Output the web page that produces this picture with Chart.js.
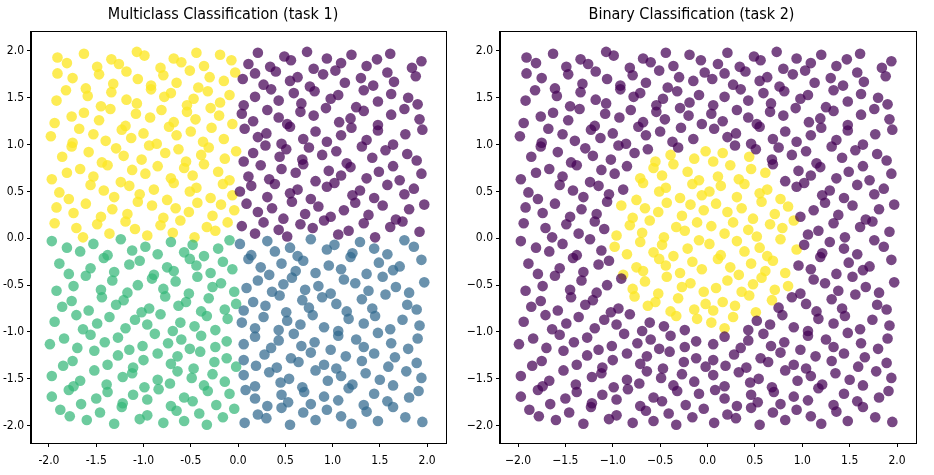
<!DOCTYPE html>
<html>
<head>
<meta charset="utf-8">
<script src="https://cdn.jsdelivr.net/npm/chart.js@4.4.1/dist/chart.umd.min.js"></script>
<style>
  html, body { margin: 0; padding: 0; background: #fff; }
  #wrap { position: relative; width: 934px; height: 475px; }
  canvas { position: absolute; top: 0; }
</style>
</head>
<body>
<div id="wrap">
  <canvas id="task1" width="467" height="475" style="left:0"></canvas>
  <canvas id="task2" width="467" height="475" style="left:467px"></canvas>
</div>
<script>
// The clouds hold thousands of points that can't be read one by one, so these
// are a fixed hand-written stand-in sample covering the same areas.
const titles = ["Multiclass Classification (task 1)", "Binary Classification (task 2)"];
const tickValues = [-2.0, -1.5, -1.0, -0.5, 0.0, 0.5, 1.0, 1.5, 2.0];
const leftTickLabels = ["-2.0", "-1.5", "-1.0", "-0.5", "0.0", "0.5", "1.0", "1.5", "2.0"];
const rightTickLabels = ["\u22122.0", "\u22121.5", "\u22121.0", "\u22120.5", "0.0", "0.5", "1.0", "1.5", "2.0"];

// class shown purple in task 1
const topRightPoints = [
  [0.04,0.13],[0.18,0.05],[0.27,0.17],[0.43,0.09],[0.52,0.02],[0.66,0.15],[0.79,0.11],[0.91,0.19],[1.06,0.04],[1.17,0.08],[1.33,0.16],[1.45,0.01],[1.61,0.12],[1.74,0.18],[1.92,0.07],
  [0.09,0.37],[0.21,0.28],[0.36,0.32],[0.48,0.21],[0.57,0.39],[0.71,0.26],[0.85,0.34],[0.98,0.23],[1.12,0.30],[1.24,0.38],[1.38,0.25],[1.53,0.35],[1.67,0.20],[1.81,0.31],[1.97,0.36],
  [0.02,0.50],[0.14,0.56],[0.31,0.44],[0.39,0.58],[0.55,0.48],[0.63,0.52],[0.77,0.42],[0.94,0.55],[1.02,0.59],[1.21,0.46],[1.29,0.51],[1.44,0.43],[1.58,0.57],[1.76,0.47],[1.86,0.53],
  [0.11,0.66],[0.24,0.78],[0.33,0.63],[0.46,0.74],[0.61,0.70],[0.69,0.79],[0.82,0.61],[0.96,0.72],[1.09,0.67],[1.19,0.76],[1.36,0.64],[1.49,0.71],[1.64,0.77],[1.71,0.62],[1.94,0.69],
  [0.06,0.82],[0.16,0.91],[0.29,0.99],[0.44,0.87],[0.51,0.95],[0.68,0.84],[0.75,0.97],[0.89,0.89],[1.04,0.93],[1.15,0.80],[1.31,0.98],[1.42,0.86],[1.56,0.94],[1.79,0.90],[1.89,0.83],
  [0.07,1.17],[0.21,1.08],[0.30,1.12],[0.46,1.01],[0.55,1.19],[0.69,1.06],[0.82,1.14],[0.94,1.03],[1.09,1.10],[1.20,1.18],[1.36,1.05],[1.48,1.15],[1.64,1.00],[1.77,1.11],[1.95,1.16],
  [0.04,1.33],[0.16,1.25],[0.31,1.37],[0.43,1.29],[0.52,1.22],[0.66,1.35],[0.80,1.31],[0.93,1.39],[1.07,1.24],[1.19,1.28],[1.33,1.36],[1.48,1.21],[1.62,1.32],[1.76,1.38],[1.92,1.27],
  [0.06,1.42],[0.18,1.51],[0.35,1.59],[0.43,1.47],[0.59,1.55],[0.67,1.44],[0.81,1.57],[0.98,1.49],[1.06,1.53],[1.25,1.40],[1.33,1.58],[1.48,1.46],[1.62,1.54],[1.80,1.50],[1.90,1.43],
  [0.05,1.70],[0.18,1.76],[0.27,1.64],[0.40,1.78],[0.55,1.68],[0.63,1.72],[0.76,1.62],[0.90,1.75],[1.03,1.79],[1.13,1.66],[1.30,1.71],[1.43,1.63],[1.58,1.77],[1.65,1.67],[1.88,1.73],
  [0.11,1.86],[0.21,1.98],[0.34,1.83],[0.49,1.94],[0.56,1.90],[0.73,1.99],[0.80,1.81],[0.94,1.92],[1.09,1.87],[1.20,1.96],[1.36,1.84],[1.47,1.91],[1.61,1.97],[1.84,1.82],[1.94,1.89]
];

// class shown yellow in task 1
const topLeftPoints = [
  [-0.11,0.17],[-0.24,0.08],[-0.33,0.12],[-0.46,0.01],[-0.61,0.19],[-0.69,0.06],[-0.82,0.14],[-0.96,0.03],[-1.09,0.10],[-1.19,0.18],[-1.36,0.05],[-1.49,0.15],[-1.64,0.01],[-1.71,0.11],[-1.94,0.16],
  [-0.04,0.30],[-0.18,0.36],[-0.27,0.24],[-0.43,0.38],[-0.52,0.28],[-0.66,0.32],[-0.79,0.22],[-0.91,0.35],[-1.06,0.39],[-1.17,0.26],[-1.33,0.31],[-1.45,0.23],[-1.61,0.37],[-1.74,0.27],[-1.92,0.33],
  [-0.06,0.46],[-0.16,0.58],[-0.29,0.43],[-0.44,0.54],[-0.51,0.50],[-0.68,0.59],[-0.75,0.41],[-0.89,0.52],[-1.04,0.47],[-1.15,0.56],[-1.31,0.44],[-1.42,0.51],[-1.56,0.57],[-1.79,0.42],[-1.89,0.49],
  [-0.09,0.62],[-0.21,0.71],[-0.36,0.79],[-0.48,0.67],[-0.57,0.75],[-0.71,0.64],[-0.85,0.77],[-0.98,0.69],[-1.12,0.73],[-1.24,0.60],[-1.38,0.78],[-1.53,0.66],[-1.67,0.74],[-1.81,0.70],[-1.97,0.63],
  [-0.02,0.93],[-0.14,0.85],[-0.31,0.97],[-0.39,0.89],[-0.55,0.82],[-0.63,0.95],[-0.77,0.91],[-0.94,0.99],[-1.02,0.84],[-1.21,0.88],[-1.29,0.96],[-1.44,0.81],[-1.58,0.92],[-1.76,0.98],[-1.86,0.87],
  [-0.15,1.06],[-0.28,1.18],[-0.37,1.03],[-0.50,1.14],[-0.65,1.10],[-0.73,1.19],[-0.86,1.01],[-1.00,1.12],[-1.13,1.07],[-1.23,1.16],[-1.40,1.04],[-1.53,1.11],[-1.68,1.17],[-1.75,1.02],[-1.98,1.09],
  [-0.06,1.22],[-0.20,1.31],[-0.29,1.39],[-0.45,1.27],[-0.54,1.35],[-0.68,1.24],[-0.81,1.37],[-0.93,1.29],[-1.08,1.33],[-1.19,1.20],[-1.35,1.38],[-1.47,1.26],[-1.63,1.34],[-1.76,1.30],[-1.94,1.23],
  [-0.09,1.53],[-0.19,1.45],[-0.32,1.57],[-0.47,1.49],[-0.54,1.42],[-0.71,1.55],[-0.78,1.51],[-0.92,1.59],[-1.07,1.44],[-1.18,1.48],[-1.34,1.56],[-1.45,1.41],[-1.59,1.52],[-1.82,1.58],[-1.92,1.47],
  [-0.03,1.77],[-0.15,1.68],[-0.30,1.72],[-0.42,1.61],[-0.51,1.79],[-0.65,1.66],[-0.79,1.74],[-0.92,1.63],[-1.06,1.70],[-1.18,1.78],[-1.32,1.65],[-1.47,1.75],[-1.61,1.60],[-1.75,1.71],[-1.91,1.76],
  [-0.07,1.90],[-0.19,1.96],[-0.36,1.84],[-0.44,1.98],[-0.60,1.88],[-0.68,1.92],[-0.82,1.82],[-0.99,1.95],[-1.07,1.99],[-1.26,1.86],[-1.34,1.91],[-1.49,1.83],[-1.63,1.97],[-1.81,1.87],[-1.91,1.93]
];

// class shown green in task 1
const bottomLeftPoints = [
  [-0.09,-0.02],[-0.21,-0.11],[-0.36,-0.19],[-0.48,-0.07],[-0.57,-0.15],[-0.71,-0.04],[-0.85,-0.17],[-0.98,-0.09],[-1.12,-0.13],[-1.24,-0.01],[-1.38,-0.18],[-1.53,-0.06],[-1.67,-0.14],[-1.81,-0.10],[-1.97,-0.03],
  [-0.06,-0.33],[-0.16,-0.25],[-0.29,-0.37],[-0.44,-0.29],[-0.51,-0.22],[-0.68,-0.35],[-0.75,-0.31],[-0.89,-0.39],[-1.04,-0.24],[-1.15,-0.28],[-1.31,-0.36],[-1.42,-0.21],[-1.56,-0.32],[-1.79,-0.38],[-1.89,-0.27],
  [-0.04,-0.57],[-0.18,-0.48],[-0.27,-0.52],[-0.43,-0.41],[-0.52,-0.59],[-0.66,-0.46],[-0.79,-0.54],[-0.91,-0.43],[-1.06,-0.50],[-1.17,-0.58],[-1.33,-0.45],[-1.45,-0.55],[-1.61,-0.40],[-1.74,-0.51],[-1.92,-0.56],
  [-0.02,-0.70],[-0.14,-0.76],[-0.31,-0.64],[-0.39,-0.78],[-0.55,-0.68],[-0.63,-0.72],[-0.77,-0.62],[-0.94,-0.75],[-1.02,-0.79],[-1.21,-0.66],[-1.29,-0.71],[-1.44,-0.63],[-1.58,-0.77],[-1.76,-0.67],[-1.86,-0.73],
  [-0.11,-0.86],[-0.24,-0.98],[-0.33,-0.83],[-0.46,-0.94],[-0.61,-0.90],[-0.69,-0.99],[-0.82,-0.81],[-0.96,-0.92],[-1.09,-0.87],[-1.19,-0.96],[-1.36,-0.84],[-1.49,-0.91],[-1.64,-0.97],[-1.71,-0.82],[-1.94,-0.89],
  [-0.12,-1.10],[-0.24,-1.16],[-0.39,-1.04],[-0.51,-1.18],[-0.60,-1.08],[-0.74,-1.12],[-0.88,-1.02],[-1.01,-1.15],[-1.15,-1.19],[-1.27,-1.06],[-1.41,-1.11],[-1.56,-1.03],[-1.70,-1.17],[-1.84,-1.07],[-1.99,-1.13],
  [-0.02,-1.37],[-0.12,-1.28],[-0.25,-1.32],[-0.40,-1.21],[-0.47,-1.39],[-0.64,-1.26],[-0.71,-1.34],[-0.85,-1.23],[-1.00,-1.30],[-1.11,-1.38],[-1.27,-1.25],[-1.38,-1.35],[-1.52,-1.20],[-1.75,-1.31],[-1.85,-1.36],
  [-0.14,-1.53],[-0.27,-1.45],[-0.36,-1.57],[-0.49,-1.49],[-0.64,-1.42],[-0.72,-1.55],[-0.85,-1.51],[-0.99,-1.59],[-1.12,-1.44],[-1.22,-1.48],[-1.39,-1.56],[-1.52,-1.41],[-1.67,-1.52],[-1.74,-1.58],[-1.97,-1.47],
  [-0.09,-1.66],[-0.23,-1.78],[-0.32,-1.63],[-0.48,-1.74],[-0.57,-1.70],[-0.71,-1.79],[-0.84,-1.61],[-0.96,-1.72],[-1.11,-1.67],[-1.22,-1.76],[-1.38,-1.64],[-1.50,-1.71],[-1.66,-1.77],[-1.79,-1.62],[-1.97,-1.69],
  [-0.04,-1.82],[-0.16,-1.91],[-0.33,-1.99],[-0.41,-1.87],[-0.57,-1.95],[-0.65,-1.84],[-0.79,-1.97],[-0.96,-1.89],[-1.04,-1.93],[-1.23,-1.80],[-1.31,-1.98],[-1.46,-1.86],[-1.60,-1.94],[-1.78,-1.90],[-1.88,-1.83]
];

// class shown blue in task 1
const bottomRightPoints = [
  [0.02,-0.06],[0.14,-0.18],[0.31,-0.03],[0.39,-0.14],[0.55,-0.10],[0.63,-0.19],[0.77,-0.01],[0.94,-0.12],[1.02,-0.07],[1.21,-0.16],[1.29,-0.04],[1.44,-0.11],[1.58,-0.17],[1.76,-0.02],[1.86,-0.09],
  [0.11,-0.22],[0.24,-0.31],[0.33,-0.39],[0.46,-0.27],[0.61,-0.35],[0.69,-0.24],[0.82,-0.37],[0.96,-0.29],[1.09,-0.33],[1.19,-0.20],[1.36,-0.38],[1.49,-0.26],[1.64,-0.34],[1.71,-0.30],[1.94,-0.23],
  [0.09,-0.53],[0.21,-0.45],[0.36,-0.57],[0.48,-0.49],[0.57,-0.42],[0.71,-0.55],[0.85,-0.51],[0.98,-0.59],[1.12,-0.44],[1.24,-0.48],[1.38,-0.56],[1.53,-0.41],[1.67,-0.52],[1.81,-0.58],[1.97,-0.47],
  [0.06,-0.77],[0.16,-0.68],[0.29,-0.72],[0.44,-0.61],[0.51,-0.79],[0.68,-0.66],[0.75,-0.74],[0.89,-0.63],[1.04,-0.70],[1.15,-0.78],[1.31,-0.65],[1.42,-0.75],[1.56,-0.60],[1.79,-0.71],[1.89,-0.76],
  [0.04,-0.90],[0.18,-0.96],[0.27,-0.84],[0.43,-0.98],[0.52,-0.88],[0.66,-0.92],[0.79,-0.82],[0.91,-0.95],[1.06,-0.99],[1.17,-0.86],[1.33,-0.91],[1.45,-0.83],[1.61,-0.97],[1.74,-0.87],[1.92,-0.93],
  [0.06,-1.13],[0.18,-1.05],[0.35,-1.17],[0.43,-1.09],[0.59,-1.02],[0.67,-1.15],[0.81,-1.11],[0.98,-1.19],[1.06,-1.04],[1.25,-1.08],[1.33,-1.16],[1.48,-1.01],[1.62,-1.12],[1.80,-1.18],[1.90,-1.07],
  [0.06,-1.30],[0.19,-1.36],[0.28,-1.24],[0.41,-1.38],[0.56,-1.28],[0.64,-1.32],[0.77,-1.22],[0.91,-1.35],[1.04,-1.39],[1.14,-1.26],[1.31,-1.31],[1.44,-1.23],[1.59,-1.37],[1.66,-1.27],[1.89,-1.33],
  [0.06,-1.46],[0.18,-1.58],[0.33,-1.43],[0.45,-1.54],[0.54,-1.50],[0.68,-1.59],[0.82,-1.41],[0.95,-1.52],[1.09,-1.47],[1.21,-1.56],[1.35,-1.44],[1.50,-1.51],[1.64,-1.57],[1.78,-1.42],[1.94,-1.49],
  [0.08,-1.62],[0.18,-1.71],[0.31,-1.79],[0.46,-1.67],[0.53,-1.75],[0.70,-1.64],[0.77,-1.77],[0.91,-1.69],[1.06,-1.73],[1.17,-1.60],[1.33,-1.78],[1.44,-1.66],[1.58,-1.74],[1.81,-1.70],[1.91,-1.63],
  [0.07,-1.97],[0.21,-1.88],[0.30,-1.92],[0.46,-1.81],[0.55,-1.99],[0.69,-1.86],[0.82,-1.94],[0.94,-1.83],[1.09,-1.90],[1.20,-1.98],[1.36,-1.85],[1.48,-1.95],[1.64,-1.80],[1.77,-1.91],[1.95,-1.96]
];

// viridis colours used by the reference
const purple = "rgba(68, 1, 84, 0.72)";
const blue = "rgba(49, 104, 142, 0.72)";
const green = "rgba(53, 183, 121, 0.72)";
const yellow = "rgba(253, 231, 37, 0.78)";

const FONT = "'DejaVu Sans Condensed', 'DejaVu Sans', sans-serif";
const toXY = (pts) => pts.map(([x, y]) => ({ x: x, y: y }));

// task 2 uses the same points, split by the unit circle
const allPoints = topRightPoints.concat(topLeftPoints, bottomLeftPoints, bottomRightPoints);
const insideCircle = allPoints.filter(([x, y]) => x * x + y * y < 1);
const outsideCircle = allPoints.filter(([x, y]) => x * x + y * y >= 1);

// axes frame (matplotlib spines)
const framePlugin = {
  id: "frame",
  afterDraw(chart) {
    const a = chart.chartArea;
    const ctx = chart.ctx;
    ctx.save();
    ctx.strokeStyle = "#000";
    ctx.lineWidth = 1;
    ctx.strokeRect(Math.round(a.left) - 0.5, Math.round(a.top) - 0.5,
      Math.round(a.right - a.left) + 1, Math.round(a.bottom - a.top) + 1);
    ctx.restore();
  },
};

function dataset(pts, color) {
  return {
    data: toXY(pts),
    backgroundColor: color,
    borderWidth: 0,
    pointRadius: 5.3,
    pointHoverRadius: 5.3,
  };
}

function axis(min, max, labels, fit) {
  return {
    type: "linear",
    min: min,
    max: max,
    afterBuildTicks: (scale) => {
      scale.ticks = tickValues.map((v) => ({ value: v }));
    },
    afterFit: fit,
    ticks: {
      autoSkip: false,
      maxRotation: 0,
      color: "#000",
      font: { family: FONT, size: 12 },
      padding: 3,
      callback: (value, index) => labels[index],
    },
    grid: { drawOnChartArea: false, drawTicks: true, tickLength: 4, color: "#000" },
    border: { display: true, color: "#000", width: 1 },
  };
}

function makeChart(id, title, datasets, labels, yWidth, padRight) {
  const x = axis(-2.19, 2.2, labels, (s) => { s.height = 32; });
  x.ticks.padding = 7;
  const y = axis(-2.185, 2.2, labels, (s) => { s.width = yWidth; });
  return new Chart(document.getElementById(id), {
    type: "scatter",
    data: { datasets: datasets },
    options: {
      responsive: false,
      animation: false,
      layout: { padding: { left: 0, right: padRight, top: 0, bottom: 0 } },
      plugins: {
        legend: { display: false },
        tooltip: { enabled: false },
        title: {
          display: true,
          text: title,
          color: "#000",
          font: { family: FONT, size: 16, weight: "normal" },
          padding: { top: 5, bottom: 8 },
        },
      },
      scales: { x: x, y: y },
    },
    plugins: [framePlugin],
  });
}

makeChart("task1", titles[0], [
  dataset(topRightPoints, purple),
  dataset(bottomRightPoints, blue),
  dataset(bottomLeftPoints, green),
  dataset(topLeftPoints, yellow),
], leftTickLabels, 31, 21);

makeChart("task2", titles[1], [
  dataset(outsideCircle, purple),
  dataset(insideCircle, yellow),
], rightTickLabels, 33, 18);
</script>
</body>
</html>
